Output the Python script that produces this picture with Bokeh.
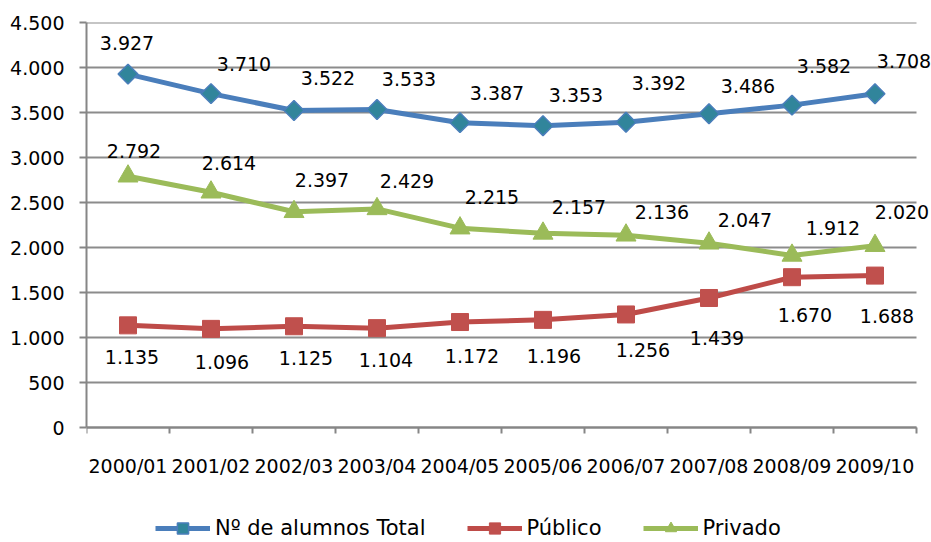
import numpy as np
from bokeh.plotting import figure
from bokeh.models import (ColumnDataSource, LabelSet, Legend, LegendItem, Range1d,
                          FixedTicker)
from bokeh.core.properties import value
from bokeh.embed import file_html
from bokeh.resources import INLINE

# ---------------- data ----------------
categories = ["2000/01", "2001/02", "2002/03", "2003/04", "2004/05",
              "2005/06", "2006/07", "2007/08", "2008/09", "2009/10"]
total = [3927, 3710, 3522, 3533, 3387, 3353, 3392, 3486, 3582, 3708]
publico = [1135, 1096, 1125, 1104, 1172, 1196, 1256, 1439, 1670, 1688]
privado = [2792, 2614, 2397, 2429, 2215, 2157, 2136, 2047, 1912, 2020]
y_ticks = [0, 500, 1000, 1500, 2000, 2500, 3000, 3500, 4000, 4500]
y_tick_labels = ["0", "500", "1.000", "1.500", "2.000", "2.500",
                 "3.000", "3.500", "4.000", "4.500"]
series_names = ["Nº de alumnos Total", "Público", "Privado"]

# label offsets in screen pixels (style, not data)
total_dx = [-1, 33, 34, 32, 37, 33, 33, 39, 32, 29]
total_dy = [31, 30, 33, 31, 30, 31, 39, 28, 39, 33]
priv_dx = [6, 18, 28, 30, 32, 36, 36, 36, 41, 27]
priv_dy = [25, 29, 32, 28, 31, 26, 23, 23, 27, 34]
pub_dx = [4, 11, 12, 9, 12, 11, 17, 8, 13, 12]
pub_dy = [-32, -33, -32, -32, -34, -36, -36, -40, -38, -40]

FONT = "DejaVu Sans"
N = len(categories)
PX_PER_CAT = 83
EXTRA_PX = 15          # room on the right for the last labels
PLOT_H = 405           # pixels spanned by 0..4500
BOTTOM_PX = 115        # room below the axis for category labels and legend
YMAX = y_ticks[-1]
UNIT = YMAX / PLOT_H   # data units per pixel
AXIS_COLOR = "#868686"

def fmt(v):
    return f"{v:,}".replace(",", ".")

xs = [i + 0.5 for i in range(N)]
bounds = list(range(N + 1))

p = figure(frame_width=N * PX_PER_CAT + EXTRA_PX, frame_height=PLOT_H + BOTTOM_PX,
           output_backend="svg", toolbar_location=None, x_axis_location=None,
           x_range=Range1d(0, N + EXTRA_PX / PX_PER_CAT),
           y_range=Range1d(-BOTTOM_PX * UNIT, YMAX),
           min_border_left=86, min_border_right=0, min_border_top=22,
           min_border_bottom=0)
p.outline_line_color = None
p.background_fill_color = "white"
p.border_fill_color = "white"
p.xgrid.grid_line_color = None
p.ygrid.grid_line_color = None

# horizontal gridlines limited to the category span
p.segment(x0=[0] * len(y_ticks), x1=[N] * len(y_ticks), y0=y_ticks, y1=y_ticks,
          line_color="#8C8C8C", line_width=2)
# category axis (line, boundary ticks, labels)
p.segment(x0=[0], x1=[N], y0=[0], y1=[0], line_color=AXIS_COLOR, line_width=2)
p.segment(x0=bounds, x1=bounds, y0=[0] * len(bounds), y1=[-6 * UNIT] * len(bounds),
          line_color=AXIS_COLOR, line_width=2)
cat_src = ColumnDataSource(dict(x=xs, y=[0] * N, t=categories))
p.add_layout(LabelSet(x="x", y="y", text="t", source=cat_src, y_offset=-38,
                      text_align="center", text_baseline="middle",
                      text_font=value(FONT), text_font_size=value("19px"),
                      text_color="black"))

# value axis
p.yaxis.ticker = FixedTicker(ticks=y_ticks)
p.yaxis.major_label_overrides = {t: l for t, l in zip(y_ticks, y_tick_labels)}
p.yaxis.bounds = (0, YMAX)
p.yaxis.major_tick_out = 7
p.yaxis.major_tick_in = 0
p.yaxis.minor_tick_line_color = None
p.yaxis.major_tick_line_color = AXIS_COLOR
p.yaxis.major_tick_line_width = 2
p.yaxis.major_label_standoff = 15
p.yaxis.axis_line_color = AXIS_COLOR
p.yaxis.axis_line_width = 2
p.yaxis.major_label_text_font = FONT
p.yaxis.major_label_text_font_size = "19px"
p.yaxis.major_label_text_color = "black"

# series
src = ColumnDataSource(dict(
    x=xs, total=total, publico=publico, privado=privado,
    lt=[fmt(v) for v in total], lpu=[fmt(v) for v in publico],
    lpr=[fmt(v) for v in privado],
    tdx=total_dx, tdy=total_dy, prdx=priv_dx, prdy=priv_dy,
    pudx=pub_dx, pudy=pub_dy))

l1 = p.line("x", "total", source=src, line_color="#4A7EBB", line_width=5)
m1 = p.scatter("x", "total", source=src, marker="square", size=14,
               angle=np.pi / 4, fill_color="#31859B", line_color="#4A7EBB",
               line_width=1.5)
l2 = p.line("x", "publico", source=src, line_color="#BE4B48", line_width=5)
m2 = p.scatter("x", "publico", source=src, marker="square", size=17,
               fill_color="#C0504D", line_color="#C0504D")
l3 = p.line("x", "privado", source=src, line_color="#9BBB59", line_width=5)
m3 = p.scatter("x", "privado", source=src, marker="triangle", size=20,
               fill_color="#9BBB59", line_color="#9BBB59")

for col, ycol, dx, dy in (("lt", "total", "tdx", "tdy"),
                          ("lpr", "privado", "prdx", "prdy"),
                          ("lpu", "publico", "pudx", "pudy")):
    p.add_layout(LabelSet(x="x", y=ycol, text=col, source=src, x_offset=dx,
                          y_offset=dy, text_align="center", text_baseline="middle",
                          text_font=value(FONT), text_font_size=value("19px"),
                          text_color="black"))

legend = Legend(items=[
    LegendItem(label=series_names[0], renderers=[l1, m1]),
    LegendItem(label=series_names[1], renderers=[l2, m2]),
    LegendItem(label=series_names[2], renderers=[l3, m3]),
], orientation="horizontal", location=(69, 0))
legend.label_text_font = FONT
legend.label_text_font_size = "21px"
legend.label_text_color = "black"
legend.glyph_width = 55
legend.glyph_height = 28
legend.label_standoff = 5
legend.spacing = 41
legend.padding = 0
legend.margin = 0
legend.border_line_color = None
legend.background_fill_alpha = 0
p.add_layout(legend, "center")

open("out.html", "w").write(file_html(p, INLINE))
